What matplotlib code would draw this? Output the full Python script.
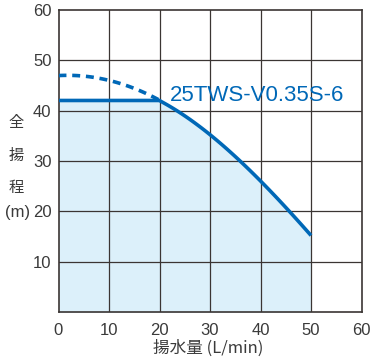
import matplotlib
matplotlib.use("Agg")
import matplotlib.pyplot as plt
import numpy as np

plt.rcParams['font.family'] = ['Liberation Sans', 'Noto Sans CJK JP', 'DejaVu Sans']

# data
flow_solid = [0, 20, 25, 30, 35, 40, 45, 50]
head_solid = [42, 42, 38.9, 35.2, 30.9, 26.2, 20.6, 15.3]
flow_dash = [0, 5, 10, 15, 20]
head_dash = [47, 46.7, 46.0, 44.5, 42]
model_label = "25TWS-V0.35S-6"
xticks = [0, 10, 20, 30, 40, 50, 60]
yticks = [10, 20, 30, 40, 50, 60]

blue = "#0068b7"
fill_c = "#dcf0fa"
txt_c = "#3a3a3a"

fig = plt.figure(figsize=(3.73, 3.61), dpi=100)
W, H = 373, 361
ax = fig.add_axes([58.5 / W, 1 - 312.3 / H, 303 / W, 302.6 / H])
ax.set_xlim(0, 60)
ax.set_ylim(0, 60)

# smooth solid curve
xs = np.array(flow_solid[1:], float)
ys = np.array(head_solid[1:], float)
coef = np.polyfit(xs, ys, 3)
xx = np.linspace(20, 50, 100)
yy = np.polyval(coef, xx)
yy[0] = 42
full_x = np.concatenate([[0], xx])
full_y = np.concatenate([[42], yy])

ax.fill_between(full_x, 0, full_y, color=fill_c, lw=0, zorder=1)

for v in xticks[1:-1]:
    ax.axvline(v, color="#3b3533", lw=0.9, zorder=2)
for v in yticks[:-1]:
    ax.axhline(v, color="#3b3533", lw=0.9, zorder=2)

# dashed curve
cd = np.polyfit(flow_dash, head_dash, 2)
dx = np.linspace(0, 20, 50)
ax.plot(dx, np.polyval(cd, dx), color=blue, lw=2.6, ls=(0, (2.2, 1.6)), zorder=3)
ax.plot(full_x, full_y, color=blue, lw=2.6, zorder=4, solid_capstyle='butt')

for s in ax.spines.values():
    s.set_color("#3b3533")
    s.set_linewidth(1.2)

ax.set_xticks(xticks)
ax.set_yticks(yticks)
ax.tick_params(length=0, labelsize=12, labelcolor=txt_c, pad=5)
ax.tick_params(axis='x', pad=8)

ax.text(22.1, 41.9, model_label, color=blue, fontsize=16, ha='left', va='baseline', zorder=5)

# y label stacked
for ch, ypx in [("全", 122), ("揚", 155), ("程", 187)]:
    fig.text(16 / W, 1 - ypx / H, ch, ha='center', va='center', fontsize=11,
             color=txt_c, family=['Noto Sans CJK JP'])
fig.text(18 / W, 1 - 213 / H, "(m)", ha='center', va='center', fontsize=12, color=txt_c)

fig.text(208 / W, 1 - 348 / H, "揚水量 (L/min)", ha='center', va='center', fontsize=12,
         color=txt_c, family=['Noto Sans CJK JP', 'DejaVu Sans'])

fig.savefig("out.png", dpi=100)
